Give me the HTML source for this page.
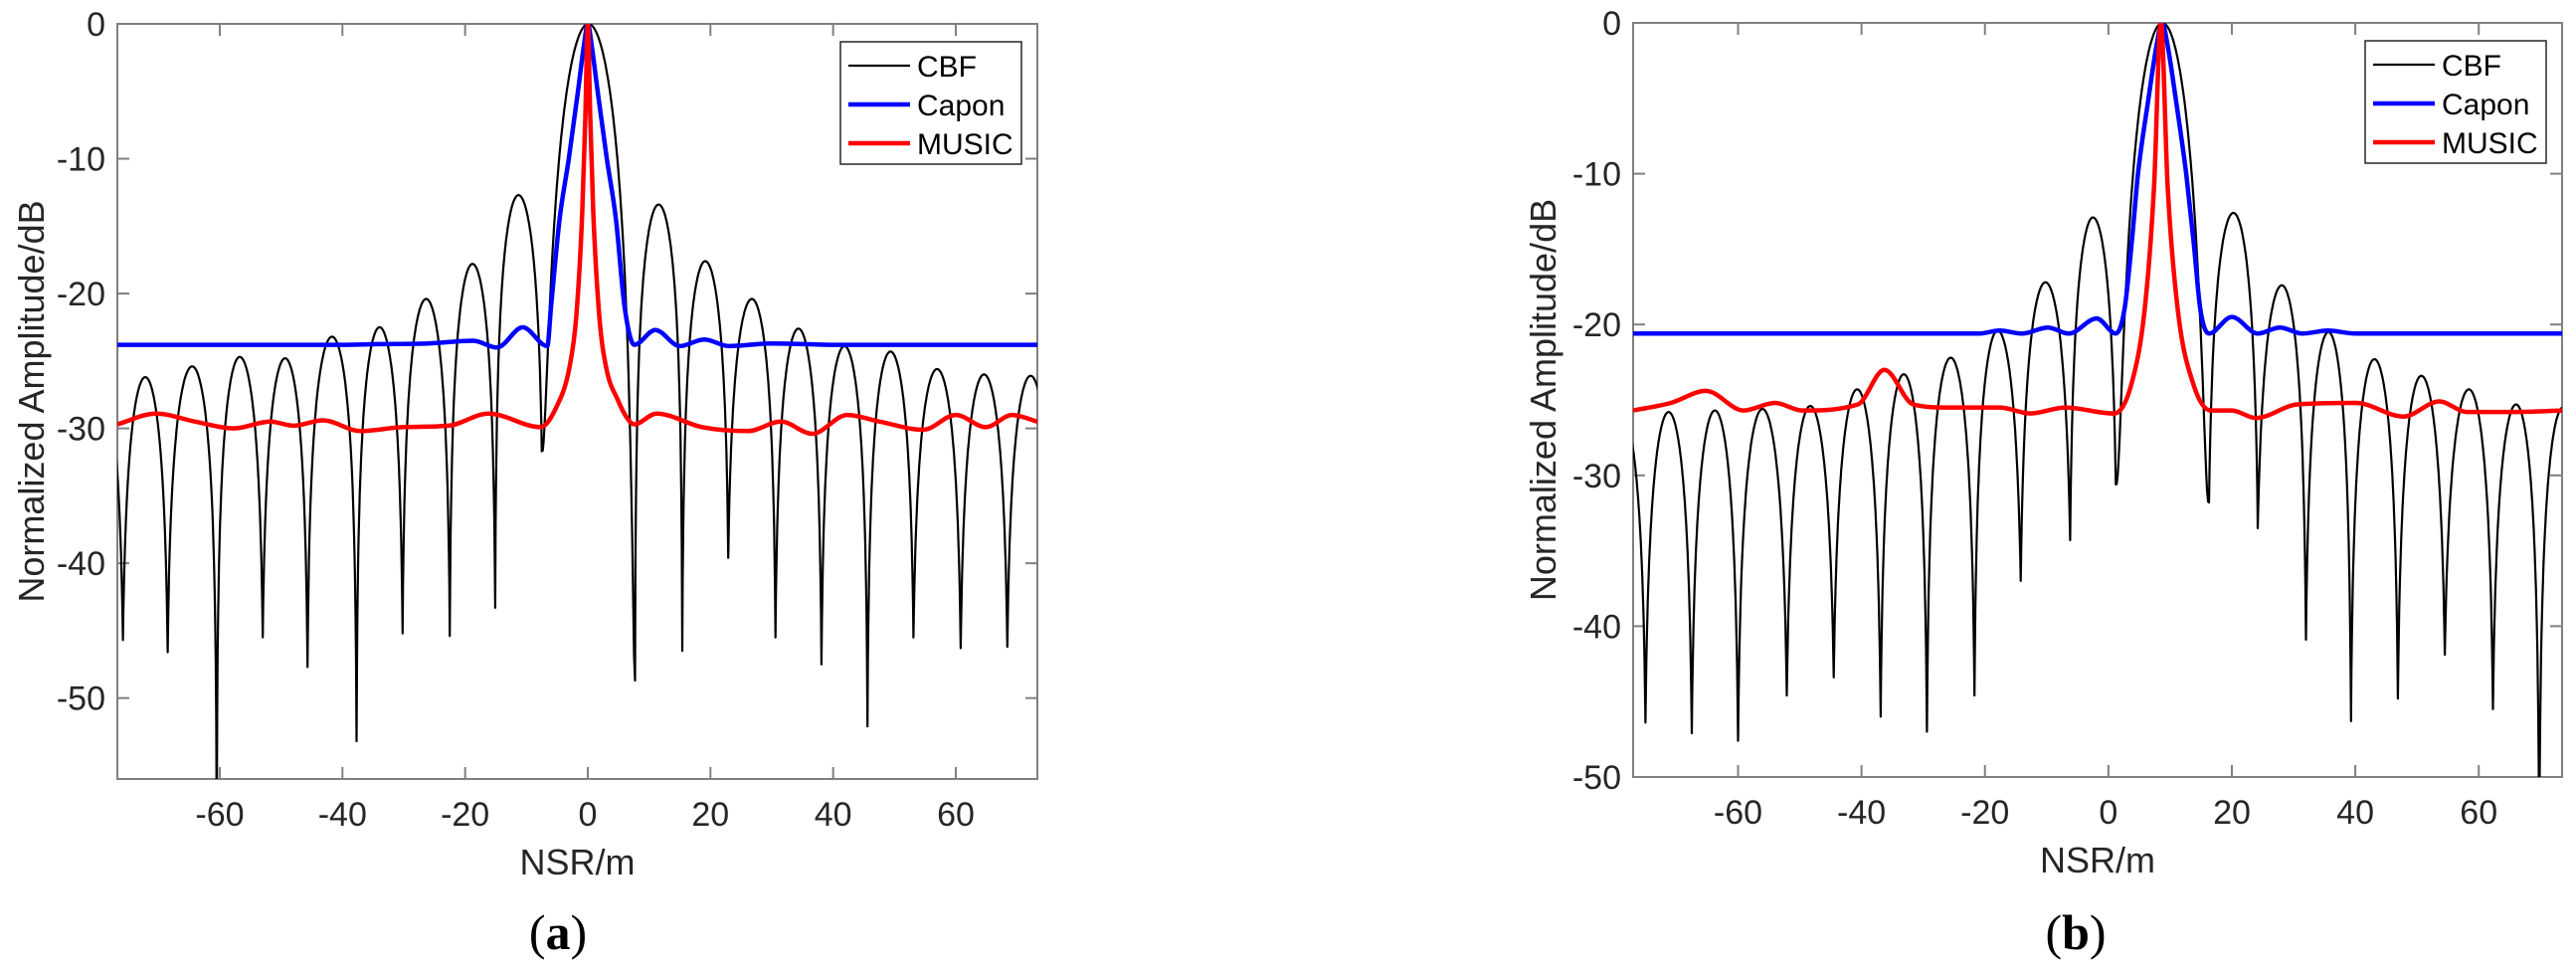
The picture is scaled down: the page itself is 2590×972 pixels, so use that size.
<!DOCTYPE html>
<html><head><meta charset="utf-8">
<style>
html,body{margin:0;padding:0;background:#fff;}
svg{display:block;font-family:"Liberation Sans",Arial,sans-serif;}
</style></head>
<body>
<svg id="fig" width="2590" height="972" viewBox="0 0 2590 972" xmlns="http://www.w3.org/2000/svg"></svg>
<script>
// ---------- Chart (a) data ----------
const aXTicks = [-60,-40,-20,0,20,40,60];
const aYTicks = [0,-10,-20,-30,-40,-50];
const aCbfNullX  = [-83.4,-75.8,-68.5,-60.5,-53.0,-45.7,-37.7,-30.2,-22.5,-15.1,-7.5,7.7,15.4,22.9,30.6,38.1,45.6,53.1,60.8,68.4,76.0];
const aCbfNullDb = [-45,-45.7,-46.6,-60,-45.5,-47.7,-53.2,-45.2,-45.4,-43.3,-31.7,-48.7,-46.5,-39.6,-45.5,-47.5,-52.1,-45.5,-46.3,-46.2,-45];
const aCbfPeakDb = [-26,-26.2,-25.4,-24.7,-24.8,-23.2,-22.5,-20.4,-17.8,-12.7,0,-13.4,-17.6,-20.4,-22.6,-23.9,-24.3,-25.6,-26.0,-26.1];
const aCaponX  = [-76.7,-70,-60,-50,-40,-34,-26,-18.7,-14.8,-10.6,-6.6,-6.0,-4.6,-3.1,-1.6,-0.6,0,0.6,1.6,3.1,4.6,6.0,7.6,11,15,19,23,30,40,50,60,73.3];
const aCaponDb = [-23.8,-23.8,-23.8,-23.8,-23.8,-23.75,-23.7,-23.5,-24.0,-22.5,-23.9,-21,-14.5,-10,-5,-1.5,0,-1.5,-5,-10,-14.5,-21,-23.8,-22.7,-23.9,-23.4,-23.9,-23.7,-23.8,-23.8,-23.8,-23.8];
const aMusicX  = [-76.7,-70.4,-64,-57.7,-51.8,-48,-43.2,-37,-30,-22.7,-16.2,-7.7,-5,-3,-1.9,-0.9,-0.4,0,0.4,0.9,1.9,3,4.9,6.5,7.6,11.2,18.6,26.1,31.5,36.6,42.3,47.6,54.7,60.0,64.9,69.2,73.3];
const aMusicDb = [-29.7,-28.9,-29.5,-30.0,-29.5,-29.8,-29.4,-30.2,-29.9,-29.8,-28.9,-29.9,-28.3,-25.5,-21.8,-14,-7,0,-7,-14,-21.8,-25.5,-27.9,-29.3,-29.7,-28.9,-29.9,-30.2,-29.5,-30.4,-29.0,-29.5,-30.1,-29.0,-29.9,-29.0,-29.5];

// ---------- Chart (b) data ----------
const bXTicks = [-60,-40,-20,0,20,40,60];
const bYTicks = [0,-10,-20,-30,-40,-50];
const bCbfNullX  = [-82.5,-75.0,-67.5,-60.0,-52.1,-44.5,-36.9,-29.4,-21.7,-14.2,-6.2,1.2,16.3,24.2,32.0,39.3,46.9,54.5,62.3,69.8,77.5];
const bCbfNullDb = [-45,-46.4,-47.1,-47.6,-44.6,-43.4,-46.0,-47.0,-44.6,-37.0,-34.3,-30.6,-31.8,-33.5,-40.9,-46.3,-44.8,-41.9,-45.5,-56,-45];
const bCbfPeakDb = [-26,-25.8,-25.7,-25.6,-25.4,-24.3,-23.3,-22.2,-20.4,-17.2,-12.9,0,-12.6,-17.4,-20.5,-22.3,-23.4,-24.3,-25.3,-25.5];
const bCaponX  = [-77,-60,-40,-30,-21,-17.6,-14,-9.8,-6.4,-1.9,1.2,2.6,3.8,4.8,6.5,7.8,8.7,9.6,10.9,12.6,13.8,14.9,16.3,20,24.2,27.8,31.4,35.6,40,50,60,73.5];
const bCaponDb = [-20.6,-20.6,-20.6,-20.6,-20.6,-20.4,-20.6,-20.2,-20.6,-19.6,-20.6,-19,-14.5,-10,-5,-1.5,0,-1.5,-5,-10,-14.5,-19,-20.6,-19.5,-20.6,-20.2,-20.6,-20.4,-20.6,-20.6,-20.6,-20.6];
const bMusicX  = [-77,-70.9,-65.2,-59.1,-54,-49.6,-40.6,-36.3,-31.6,-26,-17.6,-12.6,-7,0.9,3.7,5.9,7.4,8.5,9.6,11.2,13.8,16.6,20,23.9,30.6,40.1,47.8,53.6,58.1,65.9,73.5];
const bMusicDb = [-25.7,-25.2,-24.4,-25.7,-25.2,-25.7,-25.3,-23.0,-25.3,-25.5,-25.5,-25.9,-25.5,-25.9,-24,-18.9,-10.8,0,-10.8,-18.9,-24,-25.7,-25.7,-26.2,-25.3,-25.2,-26.1,-25.1,-25.8,-25.8,-25.7];

const NS = "http://www.w3.org/2000/svg";
const svg = document.getElementById('fig');
function mk(tag, attrs, parent){
  const e = document.createElementNS(NS, tag);
  for (const k in attrs) e.setAttribute(k, attrs[k]);
  (parent||svg).appendChild(e);
  return e;
}

// monotone cubic (Fritsch-Carlson) to avoid overshoot
function smoothPath(pts){
  const n = pts.length;
  const dx=[], dy=[], m=[];
  for (let i=0;i<n-1;i++){ dx.push(pts[i+1][0]-pts[i][0]); dy.push(pts[i+1][1]-pts[i][1]); m.push(dy[i]/dx[i]); }
  const t=[m[0]];
  for (let i=1;i<n-1;i++){ t.push(m[i-1]*m[i]<=0 ? 0 : (m[i-1]+m[i])/2); }
  t.push(m[n-2]);
  for (let i=0;i<n-1;i++){
    if (m[i]===0){ t[i]=0; t[i+1]=0; continue; }
    const a=t[i]/m[i], b=t[i+1]/m[i], h=a*a+b*b;
    if (h>9){ const s=3/Math.sqrt(h); t[i]=s*a*m[i]; t[i+1]=s*b*m[i]; }
  }
  let d = 'M' + pts[0][0].toFixed(1) + ',' + pts[0][1].toFixed(1);
  for (let i=0;i<n-1;i++){
    const h=dx[i];
    d += 'C'+(pts[i][0]+h/3).toFixed(1)+','+(pts[i][1]+t[i]*h/3).toFixed(1)+' '+(pts[i+1][0]-h/3).toFixed(1)+','+(pts[i+1][1]-t[i+1]*h/3).toFixed(1)+' '+pts[i+1][0].toFixed(1)+','+pts[i+1][1].toFixed(1);
  }
  return d;
}

function drawChart(cfg){
  const L=cfg.left, R=cfg.right, T=cfg.top, B=cfg.bottom;
  const sx = v => L + (v - cfg.xmin)/(cfg.xmax - cfg.xmin)*(R-L);
  const sy = v => T + (cfg.ymax - v)/(cfg.ymax - cfg.ymin)*(B-T);
  const g = mk('g', {});
  
  
  const clipId = 'clip-' + cfg.id;
  const cp = mk('clipPath', {id: clipId}, g);
  mk('rect', {x:L, y:T, width:R-L, height:B-T}, cp);

  const box = mk('rect', {x:L, y:T, width:R-L, height:B-T, fill:'none', stroke:'#808080', 'stroke-width':2}, g);
  
  

  cfg.xticks.forEach(v => {
    const x = sx(v);
    mk('line', {x1:x, y1:B, x2:x, y2:B-12, stroke:'#808080', 'stroke-width':2}, g);
    mk('line', {x1:x, y1:T, x2:x, y2:T+12, stroke:'#808080', 'stroke-width':2}, g);
    const t = mk('text', {x:x, y:B+47, 'text-anchor':'middle', 'font-size':34, fill:'#262626'}, g);
    t.textContent = v;
    
    
  });
  cfg.yticks.forEach(v => {
    const y = sy(v);
    mk('line', {x1:L, y1:y, x2:L+12, y2:y, stroke:'#808080', 'stroke-width':2}, g);
    mk('line', {x1:R, y1:y, x2:R-12, y2:y, stroke:'#808080', 'stroke-width':2}, g);
    const t = mk('text', {x:L-12, y:y+12, 'text-anchor':'end', 'font-size':34, fill:'#262626'}, g);
    t.textContent = v;
    
    
  });

  const plot = mk('g', {'clip-path':'url(#'+clipId+')'}, g);

  let pts = [];
  for (let i=0;i<cfg.cbfPeak.length;i++){
    const a = cfg.cbfNullX[i], b = cfg.cbfNullX[i+1], pk = cfg.cbfPeak[i];
    const k = pk > -0.5 ? 2 : 1;
    const N = 100;
    for (let j=0;j<=N;j++){
      if (i>0 && j===0) continue;
      const t = j/N;
      const s = Math.sin(Math.PI*t);
      const floor = t<0.5 ? cfg.cbfNullDb[i] : cfg.cbfNullDb[i+1];
      const lin = Math.pow(10, pk/20) * Math.pow(s, k);
      const fl = Math.pow(10, floor/20) * (1 - s);
      const v = 20*Math.log10(Math.max(lin + fl, 1e-6));
      pts.push([sx(a+(b-a)*t), sy(v)]);
    }
  }
  const cbf = mk('path', {d:'M'+pts.map(p=>p[0].toFixed(1)+','+p[1].toFixed(1)).join('L'), fill:'none', stroke:'#000', 'stroke-width':2.2, 'stroke-linejoin':'round'}, plot);
  
  

  const cap = mk('path', {d:smoothPath(cfg.caponX.map((x,i)=>[sx(x), sy(cfg.caponDb[i])])), fill:'none', stroke:'#0000ff', 'stroke-width':4.5, 'stroke-linejoin':'round'}, plot);
  
  

  const mus = mk('path', {d:smoothPath(cfg.musicX.map((x,i)=>[sx(x), sy(cfg.musicDb[i])])), fill:'none', stroke:'#ff0000', 'stroke-width':4.5, 'stroke-linejoin':'round'}, plot);
  
  

  const lg = mk('g', {}, g);
  
  
  const lx = R - 198, ly = T + 18;
  mk('rect', {x:lx, y:ly, width:182, height:123, fill:'#fff', stroke:'#262626', 'stroke-width':1.5}, lg);
  const entries = [['CBF','#000',2.2],['Capon','#0000ff',4.5],['MUSIC','#ff0000',4.5]];
  entries.forEach((en,i) => {
    const y = ly + 24 + i*39;
    const e = mk('g', {}, lg);
    
    
    mk('line', {x1:lx+8, y1:y, x2:lx+70, y2:y, stroke:en[1], 'stroke-width':en[2]}, e);
    const t = mk('text', {x:lx+77, y:y+11, 'font-size':30, fill:'#000'}, e);
    t.textContent = en[0];
  });

  const xt = mk('text', {x:(L+R)/2, y:B+96, 'text-anchor':'middle', 'font-size':36, fill:'#262626'}, g);
  xt.textContent = 'NSR/m';
  
  
  const yt = mk('text', {x:0, y:0, 'text-anchor':'middle', 'font-size':36, fill:'#262626', transform:'translate('+cfg.ylabX+','+((T+B)/2)+') rotate(-90)'}, g);
  yt.textContent = 'Normalized Amplitude/dB';
  
  

  const cap2 = mk('text', {x:cfg.capX, y:954, 'text-anchor':'middle', 'font-size':50, 'font-family':'"Liberation Serif",serif', fill:'#000'}, g);
  cap2.innerHTML = '(<tspan font-weight="bold">' + cfg.id + '</tspan>)';
  
  
}

drawChart({id:'a', left:118, right:1043, top:24, bottom:783, xmin:-76.7, xmax:73.3, ymin:-56, ymax:0,
  xticks:aXTicks, yticks:aYTicks, cbfNullX:aCbfNullX, cbfNullDb:aCbfNullDb, cbfPeak:aCbfPeakDb,
  caponX:aCaponX, caponDb:aCaponDb, musicX:aMusicX, musicDb:aMusicDb, ylabX:44, capX:561});
drawChart({id:'b', left:1642, right:2576, top:23, bottom:781, xmin:-77, xmax:73.5, ymin:-50, ymax:0,
  xticks:bXTicks, yticks:bYTicks, cbfNullX:bCbfNullX, cbfNullDb:bCbfNullDb, cbfPeak:bCbfPeakDb,
  caponX:bCaponX, caponDb:bCaponDb, musicX:bMusicX, musicDb:bMusicDb, ylabX:1564, capX:2087});
</script>
</body></html>
